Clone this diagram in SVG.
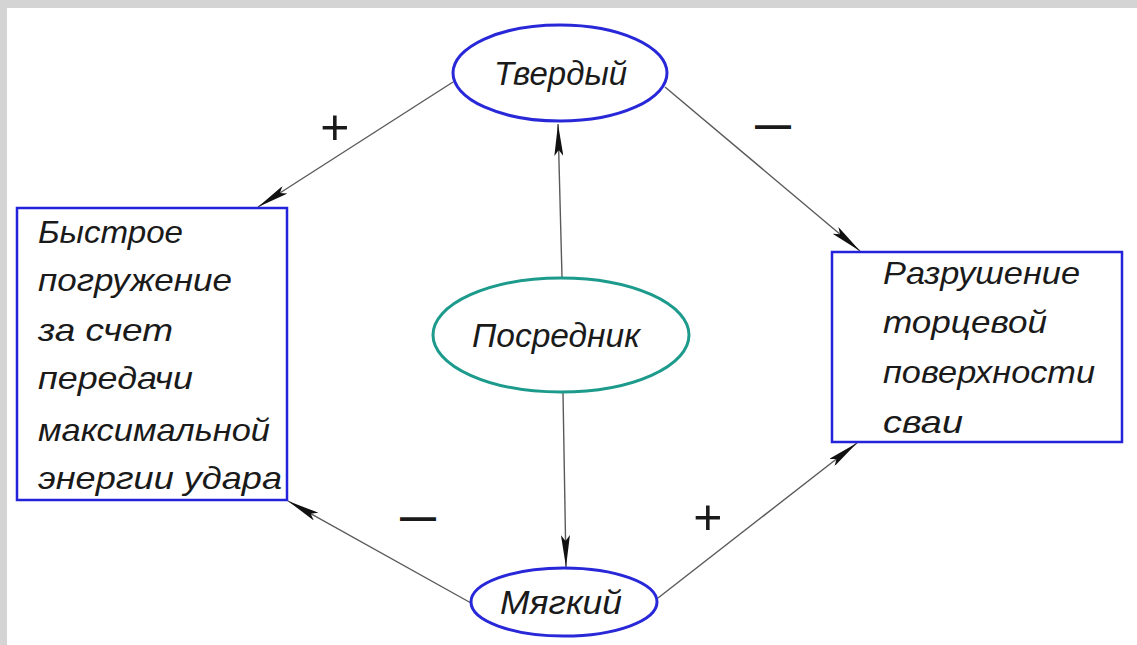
<svg xmlns="http://www.w3.org/2000/svg" width="1137" height="645" viewBox="0 0 1137 645">
<style>
.bg{fill:#ffffff}
.frame{fill:#d4d4d4}
.box{fill:#ffffff;stroke:#2323dc;stroke-width:2.5}
.ell{fill:#ffffff;stroke:#2828d8;stroke-width:3}
.ellm{fill:#ffffff;stroke:#1c9a8c;stroke-width:3}
.t{font-family:"Liberation Sans","DejaVu Sans",sans-serif;font-style:italic;fill:#1a1a1a}
.bt{font-size:32px}
.nt{font-size:33px}
.plus{font-family:"Liberation Sans","DejaVu Sans",sans-serif;font-size:50px;font-style:italic;fill:#1a1a1a}
.dash{font-family:"Liberation Sans","DejaVu Sans",sans-serif;font-size:36px;font-weight:bold;fill:#1a1a1a}
.conn{stroke:#5a5a5a;stroke-width:1.4;fill:none;marker-end:url(#arr)}
</style>
<defs>
<marker id="arr" markerUnits="userSpaceOnUse" viewBox="0 0 32 9" refX="32" refY="4.5" markerWidth="32" markerHeight="9" orient="auto">
<path d="M0,0 L32,4.5 L0,9 L6,4.5 z" fill="#111111"/>
</marker>
</defs>
<rect class="bg" x="0" y="0" width="1137" height="645"/>
<rect class="frame" x="0" y="0" width="1137" height="8"/>
<rect class="frame" x="0" y="0" width="7" height="645"/>

<g id="connectors">
<path class="conn" d="M453,82 L258,207"/>
<path class="conn" d="M665,87 L860,251"/>
<path class="conn" d="M562,277 L558,124"/>
<path class="conn" d="M563,393 L566,567"/>
<path class="conn" d="M471,603 L288,501"/>
<path class="conn" d="M658,598 L857,443"/>
</g>

<g id="labels">
<text class="plus" x="334" y="144" text-anchor="middle">+</text>
<text class="dash" x="773" y="137" text-anchor="middle">—</text>
<text class="dash" x="418" y="529" text-anchor="middle">—</text>
<text class="plus" x="707" y="534" text-anchor="middle">+</text>
</g>

<g id="node-tverdyi">
<ellipse class="ell" cx="560" cy="73" rx="107" ry="48"/>
<text class="t nt" x="494" y="85" textLength="133" lengthAdjust="spacingAndGlyphs">Твердый</text>
</g>

<g id="node-posrednik">
<ellipse class="ellm" cx="561" cy="335" rx="128" ry="57"/>
<text class="t nt" x="472" y="347" textLength="168" lengthAdjust="spacingAndGlyphs">Посредник</text>
</g>

<g id="node-myagkii">
<ellipse class="ell" cx="564" cy="602" rx="93" ry="34"/>
<text class="t nt" x="500" y="614" textLength="122" lengthAdjust="spacingAndGlyphs">Мягкий</text>
</g>

<g id="node-left">
<rect class="box" x="17" y="208" width="270" height="292"/>
<text class="t bt" x="38" y="243" textLength="145" lengthAdjust="spacingAndGlyphs">Быстрое</text>
<text class="t bt" x="38" y="291" textLength="194" lengthAdjust="spacingAndGlyphs">погружение</text>
<text class="t bt" x="38" y="341" textLength="135" lengthAdjust="spacingAndGlyphs">за счет</text>
<text class="t bt" x="38" y="389" textLength="155" lengthAdjust="spacingAndGlyphs">передачи</text>
<text class="t bt" x="38" y="441" textLength="232" lengthAdjust="spacingAndGlyphs">максимальной</text>
<text class="t bt" x="38" y="489" textLength="244" lengthAdjust="spacingAndGlyphs">энергии удара</text>
</g>

<g id="node-right">
<rect class="box" x="832" y="252" width="290" height="190"/>
<text class="t bt" x="883" y="284" textLength="197" lengthAdjust="spacingAndGlyphs">Разрушение</text>
<text class="t bt" x="883" y="333" textLength="164" lengthAdjust="spacingAndGlyphs">торцевой</text>
<text class="t bt" x="883" y="383" textLength="212" lengthAdjust="spacingAndGlyphs">поверхности</text>
<text class="t bt" x="883" y="433" textLength="80" lengthAdjust="spacingAndGlyphs">сваи</text>
</g>
</svg>
